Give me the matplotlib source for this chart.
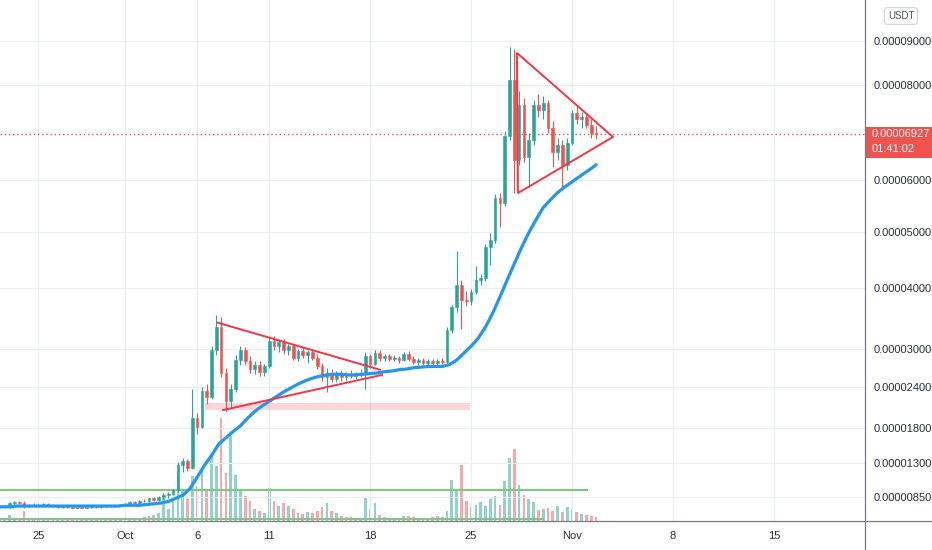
import numpy as np
import pandas as pd
import matplotlib
matplotlib.use('Agg')
import matplotlib.pyplot as plt
import matplotlib.dates as mdates
from matplotlib.patches import Rectangle, Polygon
from matplotlib.lines import Line2D

plt.rcParams['font.family'] = ['Liberation Sans', 'DejaVu Sans']

# 8h candles, prices in units of 1e-5 USDT
candle_start = '2021-09-22 08:00'
opens = [.72, .73, .72, .77, .78, .77, .74, .75, .74, .75, .76, .74, .73, .72, .73, .72, .71, .72, .71, .72,
         .73, .72, .73, .74, .73, .74, .75, .76, .78, .77, .80, .79, .83, .81, .85, .88, .89, .94, 1.28, 1.33,
         1.24, 1.95, 1.82, 2.35, 2.25, 2.98, 3.35, 2.62, 2.20, 2.38, 2.82, 2.98, 2.80, 2.68, 2.75, 2.63, 2.72, 3.12, 3.05, 3.10,
         2.98, 3.05, 2.86, 2.97, 2.90, 2.95, 2.85, 2.72, 2.55, 2.62, 2.52, 2.62, 2.55, 2.60, 2.58, 2.62, 2.60, 2.88, 2.76, 2.93,
         2.85, 2.88, 2.83, 2.86, 2.82, 2.92, 2.84, 2.79, 2.82, 2.77, 2.80, 2.78, 2.81, 2.79, 3.30, 3.68, 4.05, 3.80, 3.78, 3.93,
         4.15, 4.18, 4.72, 4.85, 5.65, 5.55, 6.88, 8.10, 6.40, 7.55, 6.45, 6.80, 7.55, 7.45, 7.60, 7.05, 6.55, 6.70, 6.30, 6.75,
         7.38, 7.25, 7.30, 7.12, 6.95]
highs = [.74, .75, .78, .79, .80, .79, .76, .77, .76, .77, .77, .76, .75, .74, .75, .73, .73, .73, .73, .74,
         .74, .74, .75, .75, .75, .76, .77, .79, .80, .81, .82, .84, .85, .86, .90, .91, .96, 1.32, 1.38, 1.36,
         2.37, 2.02, 2.40, 2.45, 3.05, 3.55, 3.52, 2.70, 2.45, 2.90, 3.05, 3.02, 2.88, 2.80, 2.80, 2.76, 3.18, 3.20, 3.15, 3.15,
         3.08, 3.08, 3.00, 3.02, 2.98, 3.00, 2.92, 2.78, 2.70, 2.68, 2.65, 2.66, 2.63, 2.66, 2.64, 2.68, 2.95, 2.92, 2.98, 2.98,
         2.92, 2.92, 2.90, 2.88, 2.95, 2.96, 2.88, 2.85, 2.85, 2.84, 2.84, 2.83, 2.85, 3.35, 3.72, 4.65, 4.15, 3.95, 3.98, 4.38,
         4.25, 4.78, 4.98, 5.72, 5.75, 7.00, 8.85, 8.80, 7.85, 7.70, 6.95, 7.65, 7.80, 7.75, 7.65, 7.20, 6.85, 6.80, 6.85, 7.45,
         7.55, 7.40, 7.35, 7.25, 7.10]
lows = [.71, .71, .70, .75, .76, .71, .72, .73, .72, .73, .73, .72, .71, .70, .71, .70, .70, .70, .70, .71,
        .71, .71, .72, .72, .72, .73, .74, .75, .76, .76, .78, .78, .80, .80, .82, .84, .88, .92, 1.18, 1.20,
        1.22, 1.72, 1.80, 2.15, 2.22, 2.90, 2.55, 2.05, 2.10, 2.33, 2.75, 2.75, 2.62, 2.60, 2.58, 2.58, 2.70, 2.98, 2.95, 2.92,
        2.90, 2.82, 2.80, 2.85, 2.78, 2.82, 2.68, 2.50, 2.33, 2.48, 2.48, 2.50, 2.50, 2.54, 2.52, 2.55, 2.37, 2.70, 2.74, 2.80,
        2.80, 2.80, 2.80, 2.78, 2.80, 2.80, 2.76, 2.75, 2.74, 2.75, 2.74, 2.75, 2.76, 2.77, 3.25, 3.60, 3.32, 3.70, 3.72, 3.90,
        4.05, 4.12, 4.40, 4.80, 5.10, 5.50, 6.80, 5.75, 6.30, 6.35, 5.85, 6.70, 7.30, 7.25, 6.95, 6.25, 6.40, 5.85, 6.20, 6.70,
        7.15, 7.05, 7.05, 6.85, 6.82]
closes = [.73, .72, .77, .78, .77, .74, .75, .74, .75, .76, .74, .73, .72, .73, .72, .71, .72, .71, .72, .73,
          .72, .73, .74, .73, .74, .75, .76, .78, .77, .80, .79, .83, .81, .85, .88, .89, .94, 1.28, 1.33, 1.24,
          1.95, 1.82, 2.35, 2.25, 2.98, 3.35, 2.62, 2.20, 2.38, 2.82, 2.98, 2.80, 2.68, 2.75, 2.63, 2.72, 3.12, 3.05, 3.10, 2.98,
          3.05, 2.86, 2.97, 2.90, 2.95, 2.85, 2.72, 2.55, 2.62, 2.52, 2.62, 2.55, 2.60, 2.58, 2.62, 2.60, 2.88, 2.76, 2.93, 2.85,
          2.88, 2.83, 2.86, 2.82, 2.92, 2.84, 2.79, 2.82, 2.77, 2.80, 2.78, 2.81, 2.79, 3.30, 3.68, 4.05, 3.80, 3.78, 3.93, 4.15,
          4.18, 4.72, 4.85, 5.65, 5.55, 6.88, 8.10, 6.40, 7.55, 6.45, 6.80, 7.55, 7.45, 7.60, 7.05, 6.55, 6.70, 6.30, 6.75, 7.38,
          7.25, 7.30, 7.12, 6.95, 6.927]
volumes = [2, 1, 6, 2, 2, 10, 2, 1, 2, 2, 1, 2, 1, 1, 2, 1, 2, 1, 1, 2,
           1, 2, 1, 2, 2, 1, 2, 3, 2, 3, 4, 5, 6, 8, 25, 12, 20, 48, 30, 22,
           45, 35, 52, 30, 65, 55, 103, 48, 85, 46, 30, 25, 20, 12, 10, 8, 33, 20, 15, 18,
           15, 12, 8, 7, 9, 8, 10, 14, 18, 10, 8, 5, 4, 4, 3, 3, 24, 12, 18, 6,
           4, 3, 3, 3, 5, 5, 4, 3, 3, 3, 4, 5, 4, 10, 41, 30, 56, 20, 14, 16,
           19, 15, 22, 25, 16, 40, 63, 72, 36, 26, 22, 19, 11, 12, 13, 10, 15, 9, 14, 12,
           9, 7, 6, 5, 4]

# moving average, sampled every 12h
ma_dates = list(pd.date_range('2021-09-22', '2021-11-02 12:00', freq='12h')) + [pd.Timestamp('2021-11-02 16:00')]
ma_values = [0.72, 0.72, 0.72, 0.73, 0.73, 0.73, 0.73, 0.73, 0.73, 0.73,
             0.73, 0.73, 0.73, 0.73, 0.73, 0.73, 0.73, 0.73, 0.74, 0.74,
             0.74, 0.75, 0.76, 0.77, 0.79, 0.83, 0.87, 0.96, 1.11, 1.27,
             1.41, 1.57, 1.66, 1.75, 1.83, 1.94, 2.04, 2.12, 2.19, 2.26,
             2.33, 2.39, 2.45, 2.50, 2.54, 2.57, 2.59, 2.60, 2.60, 2.59,
             2.59, 2.60, 2.61, 2.62, 2.64, 2.65, 2.67, 2.68, 2.70, 2.71,
             2.72, 2.72, 2.72, 2.75, 2.82, 2.93, 3.04, 3.17, 3.35, 3.58,
             3.85, 4.14, 4.43, 4.72, 4.99, 5.23, 5.46, 5.61, 5.75, 5.86,
             5.96, 6.06, 6.16, 6.26, 6.30]

# drawings
tri1_top_dates = ['2021-10-07 10:48', '2021-10-18 16:19']
tri1_top_prices = [3.42, 2.67]
tri1_bot_dates = ['2021-10-07 19:12', '2021-10-18 19:41']
tri1_bot_prices = [2.06, 2.59]
tri2_dates = ['2021-10-28 04:19', '2021-11-03 20:10', '2021-10-28 06:00']
tri2_prices = [8.72, 6.87, 5.74]
zone_dates = ['2021-10-06 13:12', '2021-10-24 22:19']
zone_prices = [2.06, 2.16]
level_hi, level_hi_end = 0.94, '2021-11-02 01:00'
level_lo, level_lo_end = 0.56, '2021-10-30 00:00'
last_price = 6.927

price_ticks = [9, 8, 6, 5, 4, 3, 2.4, 1.8, 1.3, 0.85]
date_ticks = ['2021-09-25', '2021-10-01', '2021-10-06', '2021-10-11', '2021-10-18',
              '2021-10-25', '2021-11-01', '2021-11-08', '2021-11-15']
date_labels = ['25', 'Oct', '6', '11', '18', '25', 'Nov', '8', '15']

GREEN = '#26a69a'
RED = '#ef5350'


def fwd(v):
    return np.log(np.maximum(v, -9.4) + 9.5)


def inv(u):
    return np.exp(u) - 9.5


W, H = 932, 550
fig = plt.figure(figsize=(W / 100, H / 100), dpi=100)
fig.patch.set_facecolor('white')
rect = (0, 29 / H, 865 / W, 521 / H)
ax_v = fig.add_axes(rect)
ax = fig.add_axes(rect)
ax.patch.set_alpha(0)

x0 = pd.Timestamp('2021-10-01') - pd.Timedelta(days=8.669)
x1 = pd.Timestamp('2021-10-01') + pd.Timedelta(days=51.32)

t = pd.date_range(candle_start, periods=len(closes), freq='8h')
o = np.array(opens)
c = np.array(closes)
up = c >= o
col = np.where(up, GREEN, RED)

# volume
vcol = np.where(up, '#92d2cc', '#f7a9a7')
ax_v.bar(t, volumes, width=0.19, color=vcol, lw=0)
ax_v.set_xlim(x0, x1)
ax_v.set_ylim(0, max(volumes) * 5.06)
ax_v.axis('off')

# candles
ax.vlines(t, lows, highs, colors=col, lw=0.8, zorder=3)
ax.bar(t, np.abs(c - o), bottom=np.minimum(o, c), width=0.19, color=col,
       edgecolor=col, lw=0.4, zorder=3)

ax.plot(ma_dates, ma_values, color='#2196f3', lw=2.3, zorder=4, solid_capstyle='round')

kw = dict(color='#f23645', lw=1.4, zorder=5)
ax.plot(pd.to_datetime(tri1_top_dates), tri1_top_prices, **kw)
ax.plot(pd.to_datetime(tri1_bot_dates), tri1_bot_prices, **kw)
ax.add_patch(Polygon(np.column_stack([mdates.date2num(pd.to_datetime(tri2_dates)), tri2_prices]),
                     closed=True, fill=False, ec='#f23645', lw=1.4, zorder=5))
zd = mdates.date2num(pd.to_datetime(zone_dates))
ax.add_patch(Rectangle((zd[0], zone_prices[0]), zd[1] - zd[0], zone_prices[1] - zone_prices[0],
                       fc='#f23645', alpha=0.2, lw=0, zorder=2))

ax.plot([x0, pd.Timestamp(level_hi_end)], [level_hi, level_hi], color='#81c784', lw=1.5, zorder=2)
ax.plot([x0, pd.Timestamp(level_lo_end)], [level_lo, level_lo], color='#81c784', lw=1.5, zorder=2)
ax.axhline(last_price, color=RED, lw=1, ls=(0, (1, 2)), zorder=2)

ax.set_yscale('function', functions=(fwd, inv))
ax.set_ylim(0.537, 9.99)
ax.set_xlim(x0, x1)

ax.set_yticks(price_ticks)
ax.set_yticklabels(['%.8f' % (v * 1e-5) for v in price_ticks])
ax.yaxis.tick_right()
ax.set_xticks(pd.to_datetime(date_ticks))
ax.set_xticklabels(date_labels)
ax.yaxis.set_minor_locator(matplotlib.ticker.NullLocator())
ax.tick_params(axis='both', length=0, labelsize=8, labelcolor='#2a2e39')
ax.tick_params(axis='y', pad=6)
ax.tick_params(axis='x', pad=7)
ax.grid(color='#eceef2', lw=0.8, zorder=0)
for s in ['top', 'left', 'right', 'bottom']:
    ax.spines[s].set_visible(False)

fig.add_artist(Line2D([865 / W, 865 / W], [0, 1], color='#787b86', lw=0.9))
fig.add_artist(Line2D([0, 1], [29 / H, 29 / H], color='#787b86', lw=0.9))

# last price tag
fig.patches.append(Rectangle((866 / W, 1 - 158 / H), 66 / W, 31 / H, transform=fig.transFigure,
                             fc=RED, ec='none', figure=fig))
fig.text(872 / W, 1 - 134 / H, '%.8f' % (last_price * 1e-5), color='white', fontsize=8,
         va='center', ha='left')
fig.text(872 / W, 1 - 149 / H, '01:41:02', color='white', fontsize=8, va='center', ha='left')

fig.text(901 / W, 1 - 16 / H, 'USDT', color='#50535e', fontsize=7, ha='center', va='center',
         bbox=dict(boxstyle='round,pad=0.35', fc='white', ec='#d1d4dc', lw=0.8))

plt.savefig('out.png', dpi=100)
